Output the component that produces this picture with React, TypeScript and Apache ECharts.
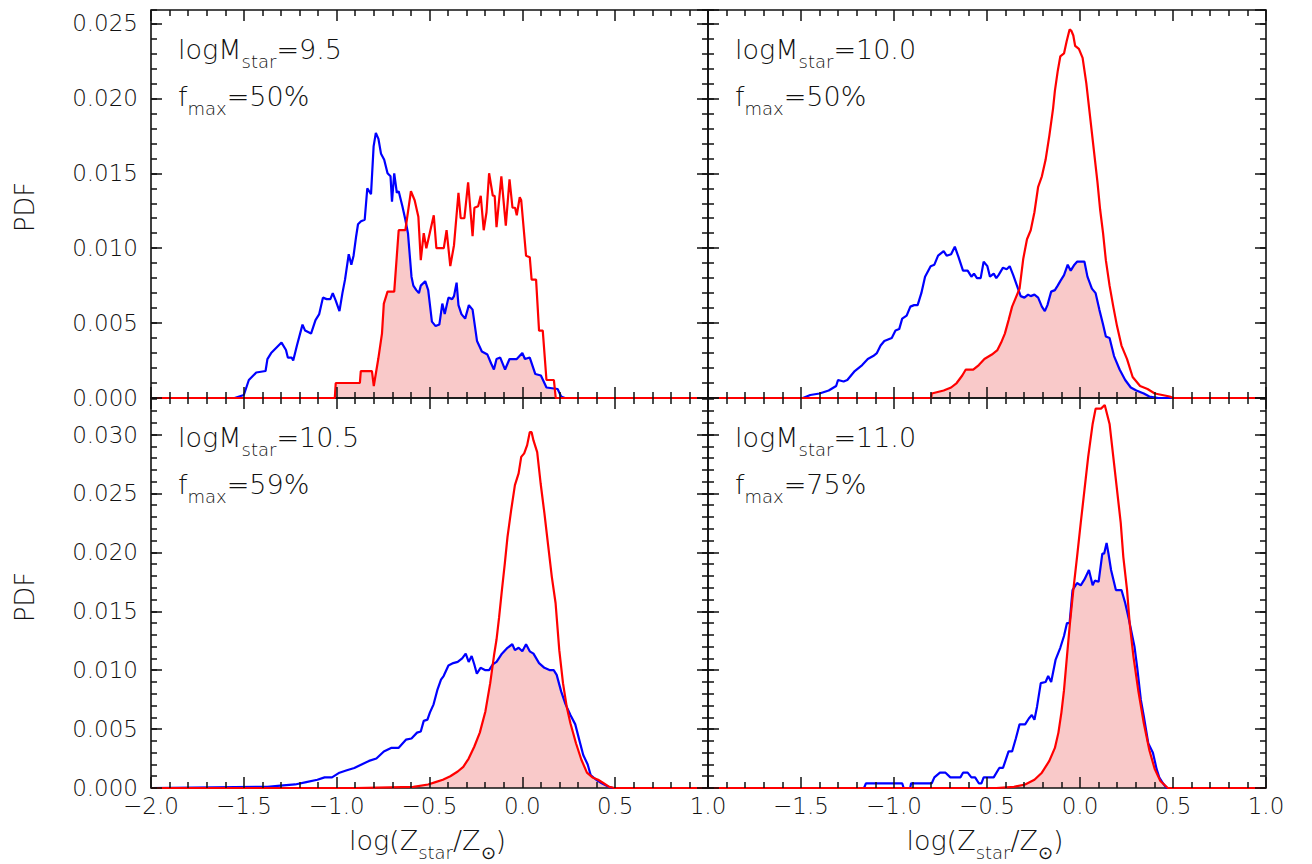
import React, { useEffect, useRef } from "react";
import * as echarts from "echarts";

type Pt = [number, number];

// ---------- data: [log(Z/Zsun), PDF] ----------
const TL_BLUE: Pt[] = [
  [-2.0, 0], [-1.55, 0], [-1.5, 0.0002], [-1.473, 0.0012], [-1.433, 0.0017], [-1.383, 0.0018], [-1.373, 0.0026],
  [-1.353, 0.003], [-1.313, 0.0035], [-1.297, 0.0037], [-1.273, 0.0032], [-1.263, 0.0027], [-1.243, 0.0027],
  [-1.234, 0.0025], [-1.214, 0.0035], [-1.184, 0.0049], [-1.17, 0.0045], [-1.138, 0.0043], [-1.114, 0.0052],
  [-1.094, 0.0056], [-1.074, 0.0067], [-1.054, 0.0066], [-1.034, 0.0066], [-1.021, 0.007], [-1.005, 0.0065],
  [-0.985, 0.0058], [-0.969, 0.007], [-0.955, 0.0079], [-0.935, 0.0096], [-0.921, 0.0089], [-0.909, 0.0095],
  [-0.895, 0.0108], [-0.885, 0.0116], [-0.869, 0.0118], [-0.849, 0.0119], [-0.835, 0.014], [-0.815, 0.0136],
  [-0.801, 0.0168], [-0.789, 0.0177], [-0.775, 0.0173], [-0.761, 0.0163], [-0.744, 0.0159], [-0.726, 0.015],
  [-0.71, 0.0148], [-0.702, 0.0131], [-0.69, 0.015], [-0.676, 0.0137], [-0.666, 0.0138], [-0.646, 0.0128],
  [-0.63, 0.0119], [-0.616, 0.011], [-0.597, 0.0081], [-0.587, 0.0075], [-0.571, 0.0072], [-0.557, 0.007],
  [-0.547, 0.0075], [-0.523, 0.0078], [-0.507, 0.0072], [-0.487, 0.0051], [-0.467, 0.0048], [-0.447, 0.0049],
  [-0.431, 0.0063], [-0.418, 0.0056], [-0.398, 0.0067], [-0.378, 0.0066], [-0.368, 0.0068], [-0.354, 0.0077],
  [-0.344, 0.0062], [-0.328, 0.0056], [-0.308, 0.0053], [-0.288, 0.0062], [-0.268, 0.0059], [-0.244, 0.0038],
  [-0.218, 0.0031], [-0.188, 0.0029], [-0.168, 0.0023], [-0.153, 0.0019], [-0.139, 0.0026], [-0.119, 0.0027],
  [-0.093, 0.0019], [-0.069, 0.0026], [-0.03, 0.0026], [0.0, 0.003], [0.014, 0.0026], [0.04, 0.0027],
  [0.07, 0.0016], [0.1, 0.0015], [0.13, 0.0007], [0.19, 0.0006], [0.209, 0.0001], [0.229, 0], [1.0, 0],
];
const TL_RED: Pt[] = [
  [-2.0, 0], [-1.01, 0], [-1.005, 0.001], [-0.875, 0.001], [-0.87, 0.0018], [-0.81, 0.0018], [-0.8, 0.0008],
  [-0.776, 0.0026], [-0.756, 0.0043], [-0.746, 0.0063], [-0.726, 0.0071], [-0.69, 0.0071], [-0.666, 0.0112],
  [-0.63, 0.0112], [-0.6, 0.0138], [-0.58, 0.0132], [-0.56, 0.0121], [-0.547, 0.0092], [-0.531, 0.011],
  [-0.517, 0.01], [-0.497, 0.0111], [-0.477, 0.0122], [-0.463, 0.01], [-0.423, 0.01], [-0.408, 0.0112],
  [-0.388, 0.0088], [-0.368, 0.0102], [-0.344, 0.0137], [-0.332, 0.012], [-0.312, 0.012], [-0.292, 0.0144],
  [-0.268, 0.0108], [-0.258, 0.0127], [-0.238, 0.0128], [-0.224, 0.0135], [-0.208, 0.0112], [-0.193, 0.0124],
  [-0.179, 0.015], [-0.159, 0.0135], [-0.149, 0.0135], [-0.139, 0.0114], [-0.113, 0.0148], [-0.089, 0.0115],
  [-0.069, 0.0146], [-0.053, 0.0127], [-0.039, 0.0127], [-0.03, 0.0122], [-0.014, 0.0134], [-0.006, 0.0132],
  [0.02, 0.0095], [0.04, 0.0094], [0.05, 0.0079], [0.074, 0.0079], [0.09, 0.0045], [0.11, 0.0045],
  [0.13, 0.0012], [0.17, 0.0012], [0.18, 0], [1.0, 0],
];
const TR_BLUE: Pt[] = [
  [-2.0, 0], [-1.49, 0], [-1.45, 0.0002], [-1.4, 0.0003], [-1.351, 0.0005], [-1.311, 0.0008], [-1.301, 0.0012],
  [-1.271, 0.0011], [-1.251, 0.0012], [-1.211, 0.0018], [-1.171, 0.0022], [-1.141, 0.0026], [-1.112, 0.0028],
  [-1.092, 0.003], [-1.072, 0.0035], [-1.052, 0.0038], [-1.012, 0.004], [-0.992, 0.0045], [-0.972, 0.0046],
  [-0.956, 0.0053], [-0.932, 0.0055], [-0.912, 0.0061], [-0.892, 0.0062], [-0.873, 0.0062], [-0.853, 0.007],
  [-0.833, 0.0081], [-0.803, 0.0088], [-0.783, 0.0089], [-0.763, 0.0095], [-0.733, 0.0098], [-0.717, 0.0095],
  [-0.693, 0.0096], [-0.673, 0.0101], [-0.653, 0.0094], [-0.629, 0.0085], [-0.604, 0.0085], [-0.584, 0.0081],
  [-0.57, 0.0083], [-0.554, 0.008], [-0.534, 0.008], [-0.518, 0.0091], [-0.498, 0.0088], [-0.484, 0.0081],
  [-0.464, 0.0083], [-0.45, 0.008], [-0.438, 0.0082], [-0.414, 0.0087], [-0.394, 0.0086], [-0.378, 0.0088],
  [-0.359, 0.0082], [-0.339, 0.0075], [-0.319, 0.0068], [-0.299, 0.0067], [-0.279, 0.0069], [-0.265, 0.0068],
  [-0.245, 0.0069], [-0.225, 0.0067], [-0.205, 0.0061], [-0.189, 0.0058], [-0.175, 0.0062], [-0.155, 0.0071],
  [-0.135, 0.0072], [-0.12, 0.0075], [-0.106, 0.0078], [-0.086, 0.0082], [-0.066, 0.0089], [-0.05, 0.0085],
  [-0.03, 0.0089], [-0.016, 0.0091], [0.024, 0.0091], [0.04, 0.0081], [0.064, 0.0073], [0.084, 0.007],
  [0.104, 0.0059], [0.124, 0.0049], [0.139, 0.0041], [0.159, 0.004], [0.183, 0.0028], [0.213, 0.0019],
  [0.243, 0.0012], [0.273, 0.0007], [0.303, 0.0005], [0.343, 0.0003], [0.373, 0.0001], [0.422, 0], [1.0, 0],
];
const TR_RED: Pt[] = [
  [-2.0, 0], [-0.8, 0], [-0.797, 0.0003], [-0.733, 0.0005], [-0.693, 0.0007], [-0.663, 0.001], [-0.633, 0.0015],
  [-0.614, 0.0019], [-0.574, 0.0019], [-0.544, 0.0022], [-0.514, 0.0026], [-0.474, 0.0029], [-0.444, 0.0032],
  [-0.424, 0.0037], [-0.404, 0.0043], [-0.384, 0.0052], [-0.365, 0.0061], [-0.345, 0.0067], [-0.325, 0.0073],
  [-0.305, 0.0093], [-0.285, 0.0106], [-0.265, 0.0112], [-0.245, 0.0124], [-0.225, 0.0141], [-0.205, 0.0148],
  [-0.185, 0.0159], [-0.165, 0.0175], [-0.145, 0.0193], [-0.135, 0.0205], [-0.12, 0.0218], [-0.106, 0.0228],
  [-0.086, 0.023], [-0.072, 0.0238], [-0.056, 0.0246], [-0.046, 0.0245], [-0.036, 0.0242], [-0.026, 0.0235],
  [-0.006, 0.0233], [0.014, 0.0227], [0.034, 0.021], [0.054, 0.0188], [0.074, 0.0166], [0.094, 0.0144],
  [0.108, 0.0126], [0.124, 0.011], [0.139, 0.0092], [0.159, 0.0075], [0.179, 0.0061], [0.199, 0.0048],
  [0.223, 0.0035], [0.253, 0.0026], [0.283, 0.0014], [0.323, 0.0008], [0.363, 0.0006], [0.402, 0.0003],
  [0.442, 0.0002], [0.482, 0.0001], [0.502, 0], [1.0, 0],
];
const BL_BLUE: Pt[] = [
  [-2.0, 0], [-1.373, 0.0001], [-1.303, 0.0002], [-1.224, 0.0003], [-1.164, 0.0005], [-1.104, 0.0007],
  [-1.065, 0.0009], [-1.025, 0.0009], [-0.985, 0.0013], [-0.945, 0.0015], [-0.905, 0.0017], [-0.866, 0.002],
  [-0.826, 0.0023], [-0.786, 0.0025], [-0.746, 0.0031], [-0.707, 0.0034], [-0.667, 0.0034], [-0.627, 0.0041],
  [-0.597, 0.0042], [-0.567, 0.0047], [-0.547, 0.0048], [-0.531, 0.0057], [-0.511, 0.0058], [-0.498, 0.0064],
  [-0.478, 0.0071], [-0.458, 0.0083], [-0.438, 0.0092], [-0.424, 0.0095], [-0.398, 0.0104], [-0.372, 0.0106],
  [-0.348, 0.0107], [-0.324, 0.011], [-0.305, 0.0114], [-0.289, 0.0107], [-0.273, 0.0112], [-0.259, 0.0105],
  [-0.245, 0.0097], [-0.225, 0.0102], [-0.199, 0.01], [-0.179, 0.01], [-0.159, 0.0105], [-0.139, 0.0107],
  [-0.11, 0.0114], [-0.08, 0.0119], [-0.054, 0.0122], [-0.04, 0.0117], [-0.02, 0.0119], [0.0, 0.0116],
  [0.02, 0.0122], [0.04, 0.0116], [0.06, 0.0114], [0.09, 0.0106], [0.119, 0.0102], [0.149, 0.01],
  [0.169, 0.0100], [0.185, 0.0096], [0.209, 0.0082], [0.233, 0.0071], [0.259, 0.0062], [0.285, 0.0054],
  [0.308, 0.004], [0.328, 0.0028], [0.352, 0.002], [0.368, 0.0011], [0.398, 0.0007], [0.428, 0.0004],
  [0.464, 0.0001], [0.488, 0], [1.0, 0],
];
const BL_RED: Pt[] = [
  [-2.0, 0], [-0.9, 0], [-0.587, 0.0001], [-0.508, 0.0003], [-0.468, 0.0005], [-0.428, 0.0007], [-0.388, 0.001],
  [-0.348, 0.0014], [-0.318, 0.0018], [-0.289, 0.0025], [-0.259, 0.0035], [-0.229, 0.0047], [-0.199, 0.0065],
  [-0.173, 0.0089], [-0.153, 0.0112], [-0.139, 0.0126], [-0.125, 0.0145], [-0.11, 0.0168], [-0.094, 0.0191],
  [-0.08, 0.0213], [-0.06, 0.0236], [-0.04, 0.0257], [-0.02, 0.0267], [-0.006, 0.0281], [0.01, 0.0284],
  [0.026, 0.0291], [0.04, 0.0302], [0.05, 0.0302], [0.06, 0.0295], [0.08, 0.0285], [0.099, 0.0258],
  [0.119, 0.0233], [0.139, 0.0206], [0.159, 0.0179], [0.179, 0.0157], [0.199, 0.0117], [0.219, 0.0089],
  [0.239, 0.0069], [0.259, 0.0055], [0.289, 0.0038], [0.318, 0.0024], [0.348, 0.0013], [0.378, 0.0009],
  [0.408, 0.0007], [0.438, 0.0004], [0.468, 0.0001], [0.497, 0], [1.0, 0],
];
const BR_BLUE: Pt[] = [
  [-2.0, 0], [-1.161, 0], [-1.151, 0.0004], [-0.956, 0.0004], [-0.948, 0], [-0.913, 0], [-0.908, 0.0004],
  [-0.797, 0.0004], [-0.783, 0.0009], [-0.753, 0.0013], [-0.723, 0.0013], [-0.697, 0.0009], [-0.643, 0.0009],
  [-0.629, 0.0013], [-0.604, 0.0013], [-0.584, 0.0009], [-0.564, 0.0009], [-0.544, 0.0004], [-0.53, 0.0004],
  [-0.518, 0.0009], [-0.464, 0.0009], [-0.434, 0.0017], [-0.414, 0.0017], [-0.384, 0.0031], [-0.365, 0.0031],
  [-0.345, 0.0042], [-0.325, 0.0054], [-0.295, 0.0054], [-0.275, 0.0059], [-0.259, 0.0062], [-0.245, 0.0058],
  [-0.231, 0.0069], [-0.211, 0.0089], [-0.185, 0.009], [-0.171, 0.0095], [-0.155, 0.009], [-0.131, 0.0109],
  [-0.106, 0.0119], [-0.086, 0.0129], [-0.07, 0.014], [-0.056, 0.014], [-0.04, 0.0168], [-0.016, 0.0174],
  [0.004, 0.0172], [0.024, 0.0177], [0.048, 0.0185], [0.068, 0.0172], [0.08, 0.0176], [0.1, 0.0175],
  [0.12, 0.0199], [0.13, 0.0199], [0.143, 0.0208], [0.153, 0.0199], [0.167, 0.0185], [0.193, 0.0168],
  [0.223, 0.0168], [0.243, 0.0157], [0.263, 0.0143], [0.293, 0.012], [0.307, 0.0103], [0.327, 0.0075],
  [0.343, 0.0061], [0.367, 0.0038], [0.392, 0.003], [0.412, 0.0016], [0.426, 0.0009], [0.446, 0.0004],
  [0.466, 0], [1.0, 0],
];
const BR_RED: Pt[] = [
  [-2.0, 0], [-0.45, 0], [-0.355, 0.0001], [-0.295, 0.0003], [-0.245, 0.0007], [-0.205, 0.0013], [-0.165, 0.0023],
  [-0.135, 0.0034], [-0.116, 0.0047], [-0.1, 0.0064], [-0.086, 0.0083], [-0.07, 0.0112], [-0.054, 0.014],
  [-0.036, 0.0168], [-0.016, 0.0196], [0.004, 0.0225], [0.024, 0.0253], [0.044, 0.0281], [0.068, 0.0309],
  [0.084, 0.0322], [0.113, 0.0322], [0.133, 0.0325], [0.159, 0.0309], [0.179, 0.0281], [0.199, 0.0253],
  [0.219, 0.0225], [0.233, 0.0196], [0.253, 0.0168], [0.267, 0.014], [0.287, 0.0112], [0.313, 0.0083],
  [0.343, 0.0055], [0.373, 0.0032], [0.402, 0.0016], [0.432, 0.0006], [0.472, 0], [1.0, 0],
];

const BLUE_CURVES = [TL_BLUE, TR_BLUE, BL_BLUE, BR_BLUE];
const RED_CURVES = [TL_RED, TR_RED, BL_RED, BR_RED];
const MASS_LABELS = ["9.5", "10.0", "10.5", "11.0"];
const FMAX_LABELS = ["50%", "50%", "59%", "75%"];

const X_MIN = -2.0;
const X_MAX = 1.0;
const X_STEP = 0.5;
const Y_STEP = 0.005;
const Y_MINOR_STEP = 0.001;
const Y_MAX_ROW = [0.0259, 0.0331];

const GRIDS = [
  { left: 151, top: 10, width: 557, height: 388 },
  { left: 708, top: 10, width: 558, height: 388 },
  { left: 151, top: 398, width: 557, height: 390 },
  { left: 708, top: 398, width: 558, height: 390 },
];

export default function App() {
  const ref = useRef<HTMLDivElement>(null);

  useEffect(() => {
    const chart = echarts.init(ref.current as HTMLDivElement, null, { renderer: "svg" });
    const FONT = "DejaVu Sans";
    const WEIGHT = 200;
    const INK = "#111111";
    const PINK = "#f9c9c9";
    const tick = () => ({ color: INK, width: 1.5 });
    const fmtX = (v: number) => (v < -1e-9 ? "\u2212" : "") + Math.abs(v).toFixed(1);

    const xAxis: any[] = [];
    const yAxis: any[] = [];
    const series: any[] = [];
    const graphic: any[] = [];

    GRIDS.forEach((g, i) => {
      const col = i % 2;
      const row = Math.floor(i / 2);
      const ymax = Y_MAX_ROW[row];

      ["bottom", "top"].forEach((pos) => {
        xAxis.push({
          gridIndex: i, type: "value", min: X_MIN, max: X_MAX, interval: X_STEP, position: pos, z: 10,
          axisLine: { show: false, onZero: false },
          axisTick: { show: true, inside: true, length: 11, lineStyle: tick() },
          minorTick: { show: true, splitNumber: 5, length: 6, lineStyle: tick() },
          splitLine: { show: false }, minorSplitLine: { show: false },
          axisLabel: {
            show: pos === "bottom" && row === 1, margin: 6, fontSize: 23, fontFamily: FONT, fontWeight: WEIGHT, color: INK,
            formatter: (v: number) => (col === 1 && Math.abs(v - X_MIN) < 1e-9 ? "" : fmtX(v)),
          },
        });
      });

      ["left", "right"].forEach((pos) => {
        yAxis.push({
          gridIndex: i, type: "value", min: 0, max: ymax, interval: Y_STEP, position: pos, z: 10,
          axisLine: { show: false, onZero: false },
          axisTick: { show: true, inside: true, length: 11, lineStyle: tick() },
          splitLine: { show: false },
          axisLabel: {
            show: pos === "left" && col === 0, showMaxLabel: false, margin: 13, fontSize: 23,
            fontFamily: FONT, fontWeight: WEIGHT, color: INK, formatter: (v: number) => v.toFixed(3),
          },
        });
        yAxis.push({
          gridIndex: i, type: "value", min: 0, max: ymax, interval: Y_MINOR_STEP, position: pos, z: 10,
          axisLine: { show: false, onZero: false },
          axisTick: { show: true, inside: true, length: 6, lineStyle: tick() },
          splitLine: { show: false },
          axisLabel: { show: false },
        });
      });

      const xi = 2 * i;
      const yi = 4 * i;
      const base = { type: "line", xAxisIndex: xi, yAxisIndex: yi, symbol: "none", showSymbol: false, silent: true, animation: false };
      series.push({ ...base, data: RED_CURVES[i], z: 1, lineStyle: { width: 0, opacity: 0 }, areaStyle: { color: PINK, opacity: 1 } });
      series.push({ ...base, data: BLUE_CURVES[i], z: 2, lineStyle: { width: 0, opacity: 0 }, areaStyle: { color: "#ffffff", opacity: 1, origin: "end" } });
      series.push({ ...base, data: BLUE_CURVES[i], z: 3, lineStyle: { color: "#0000ff", width: 2.2 } });
      series.push({ ...base, data: RED_CURVES[i], z: 4, lineStyle: { color: "#ff0000", width: 2.2 } });

      // panel frame (under the curves, over the fills)
      graphic.push({
        type: "rect", z: 2.5, silent: true,
        shape: { x: g.left, y: g.top, width: g.width, height: g.height },
        style: { fill: "none", stroke: INK, lineWidth: 1.6 },
      });

      const rich = {
        a: { fontSize: 27, fontFamily: FONT, fontWeight: WEIGHT, fill: INK, color: INK, verticalAlign: "top", lineHeight: 32 },
        s: { fontSize: 18, fontFamily: FONT, fontWeight: WEIGHT, fill: INK, color: INK, verticalAlign: "top", lineHeight: 22, padding: [16, 0, 0, 0] },
      };
      graphic.push({
        type: "text", x: g.left + 27, y: g.top + 26, z: 100,
        style: { text: `{a|logM}{s|star}{a|=${MASS_LABELS[i]}}`, rich, align: "left", verticalAlign: "top" },
      });
      graphic.push({
        type: "text", x: g.left + 27, y: g.top + 73, z: 100,
        style: { text: `{a|f}{s|max}{a|=${FMAX_LABELS[i]}}`, rich, align: "left", verticalAlign: "top" },
      });
      if (row === 1) {
        graphic.push({
          type: "text", x: g.left + g.width / 2 - 2, y: 827, z: 100,
          style: { text: "{a|log(Z}{s|star}{a|/Z}{s|\u2299}{a|)}", rich, align: "center", verticalAlign: "top" },
        });
      }
      if (col === 0) {
        graphic.push({
          type: "text", x: 25, y: row === 0 ? 207 : 597, rotation: Math.PI / 2, z: 100,
          style: { text: "PDF", fontSize: 26, fontFamily: FONT, fontWeight: WEIGHT, fill: INK, align: "center", verticalAlign: "middle" },
        });
      }
    });

    chart.setOption({
      animation: false,
      backgroundColor: "#ffffff",
      grid: GRIDS.map((g) => ({ ...g, containLabel: false })),
      xAxis,
      yAxis,
      series,
      graphic,
    });
    return () => chart.dispose();
  }, []);

  return <div ref={ref} style={{ position: "absolute", left: 0, top: 0, width: 1312, height: 864 }} />;
}
